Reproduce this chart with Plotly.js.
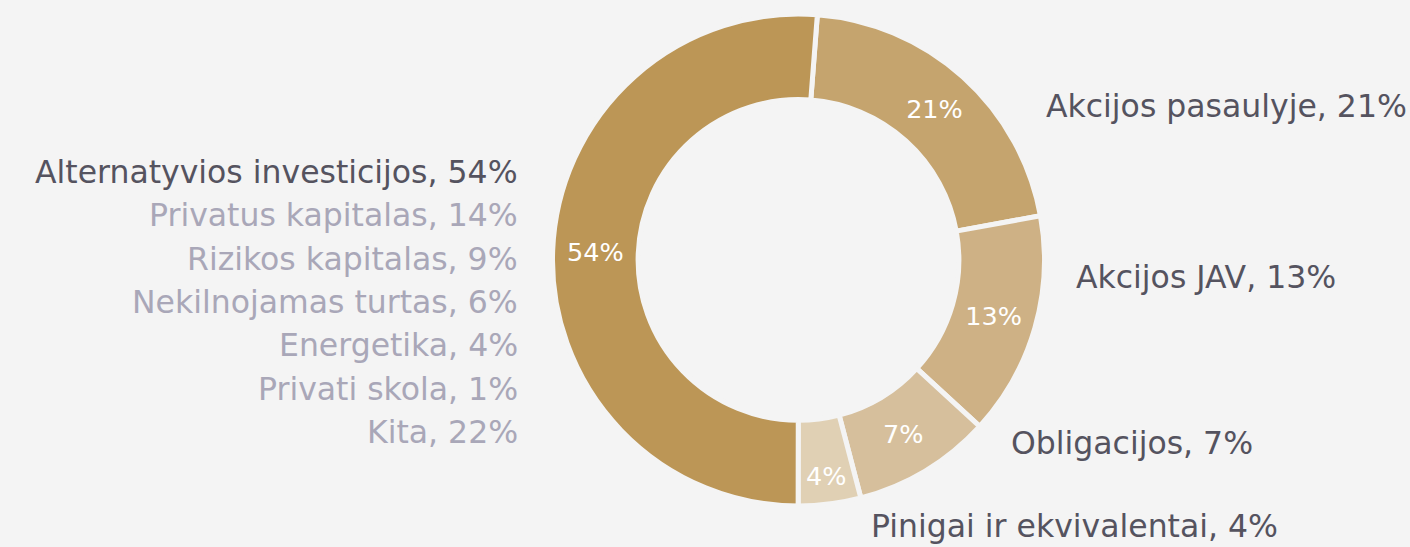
<!DOCTYPE html>
<html>
<head>
<meta charset="utf-8">
<script src="https://cdn.plot.ly/plotly-3.0.1.min.js"></script>
<style>
  html, body { margin: 0; padding: 0; background: #f4f4f4; }
  #chart { width: 1410px; height: 547px; }
</style>
</head>
<body>
<div id="chart"></div>
<script>
// Slices, clockwise from the top
const categories = ["Akcijos pasaulyje", "Akcijos JAV", "Obligacijos", "Pinigai ir ekvivalentai", "Alternatyvios investicijos"];
const shownPct = [21, 13, 7, 4, 54];
// slice sizes as drawn in the picture (share of the circle, %)
const sliceValues = [20.9, 14.7, 9.1, 4.1, 51.2];
const sliceColors = ["#C5A46E", "#CEB185", "#D6BF9C", "#E0D0B4", "#BC9656"];

// Breakdown of alternative investments
const altCategories = ["Privatus kapitalas", "Rizikos kapitalas", "Nekilnojamas turtas", "Energetika", "Privati skola", "Kita"];
const altPct = [14, 9, 6, 4, 1, 22];

const W = 1410, H = 547;
const font = "'DejaVu Sans', Inter, sans-serif";
const dark = "#55535F", light = "#A9A7B8";

const trace = {
  type: "pie",
  labels: categories,
  values: sliceValues,
  text: shownPct.map(v => v + "%"),
  textinfo: "text",
  textposition: "inside",
  insidetextorientation: "horizontal",
  textfont: { family: font, size: 25.5, color: "#ffffff" },
  hole: 0.652,
  sort: false,
  direction: "clockwise",
  rotation: 4.4,
  marker: { colors: sliceColors, line: { color: "#f4f4f4", width: 5 } },
  domain: { x: [0.3918, 0.7408], y: [0.0750, 0.9744] },
  showlegend: false,
  hoverinfo: "label+text"
};

// outside label positions (px)
const outPos = [[1044, 106], [1074, 277], [1009, 443], [869, 526]];
const annotations = [];
categories.slice(0, 4).forEach((c, i) => {
  annotations.push({
    x: outPos[i][0] / W, y: 1 - outPos[i][1] / H, xref: "paper", yref: "paper",
    xanchor: "left", yanchor: "middle", showarrow: false,
    text: c + ", " + shownPct[i] + "%",
    font: { family: font, size: 31.5, color: dark }
  });
});
const leftLines = [[categories[4], shownPct[4]]].concat(altCategories.map((c, i) => [c, altPct[i]]));
leftLines.forEach((l, i) => {
  annotations.push({
    x: 520 / W, y: 1 - (172 + i * 43.3) / H, xref: "paper", yref: "paper",
    xanchor: "right", yanchor: "middle", showarrow: false,
    text: l[0] + ", " + l[1] + "%",
    font: { family: font, size: 31.5, color: i === 0 ? dark : light }
  });
});

const layout = {
  width: W, height: H,
  margin: { l: 0, r: 0, t: 0, b: 0 },
  paper_bgcolor: "#f4f4f4",
  plot_bgcolor: "#f4f4f4",
  annotations: annotations
};

Plotly.newPlot("chart", [trace], layout, { displayModeBar: false, staticPlot: true });
</script>
</body>
</html>
